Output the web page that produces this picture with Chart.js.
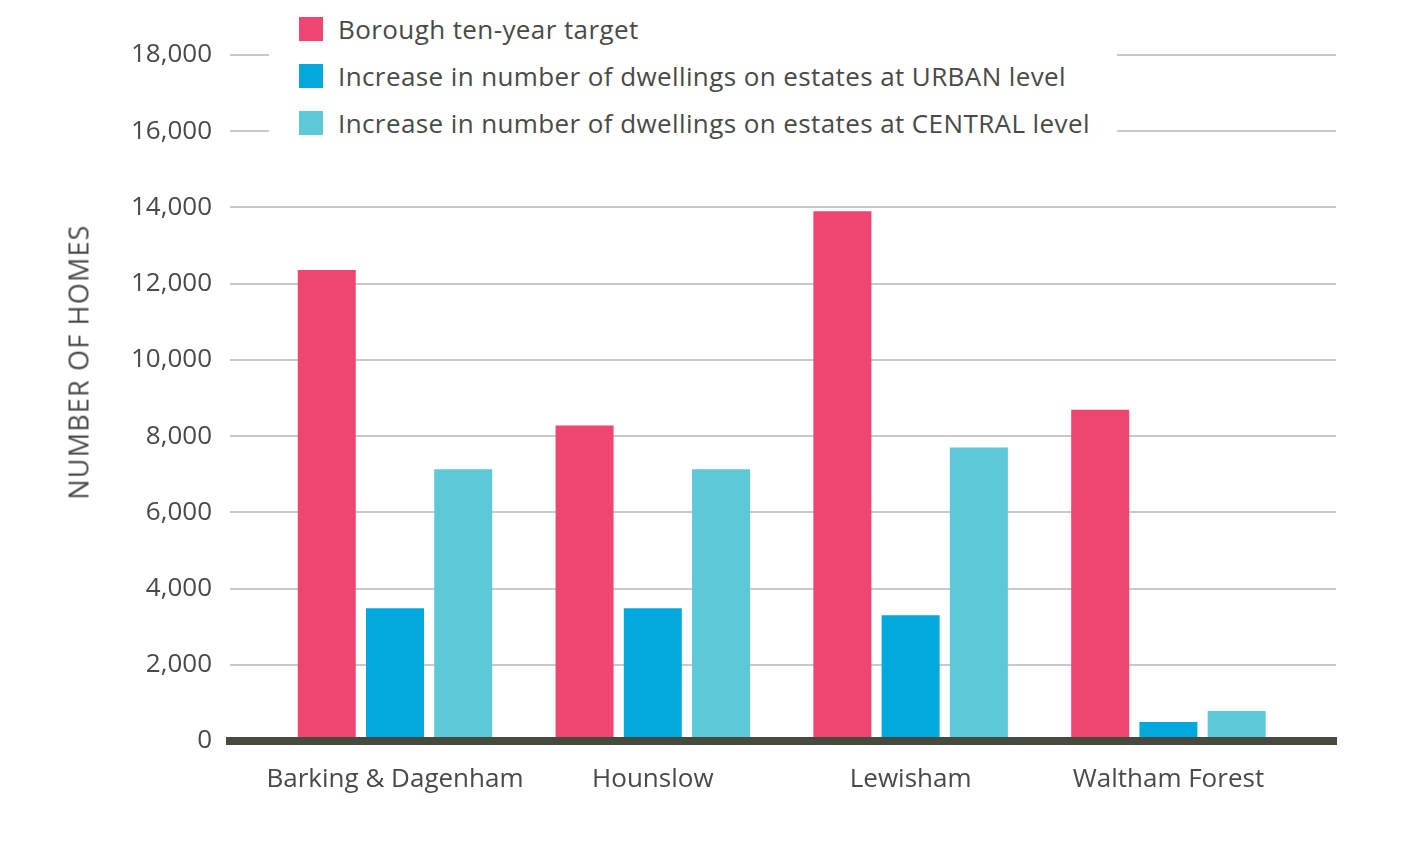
<!DOCTYPE html>
<html>
<head>
<meta charset="utf-8">
<script src="https://cdn.jsdelivr.net/npm/chart.js@4/dist/chart.umd.min.js"></script>
<style>
  html, body { margin: 0; padding: 0; background: #ffffff; }
  #wrap { position: relative; width: 1417px; height: 858px; overflow: hidden; font-family: "Open Sans", Lato, sans-serif; color: #474b45; }
  #c { position: absolute; left: 0; top: 0; }
  #legend { position: absolute; left: 269px; top: 0; width: 848px; height: 150px; background: #ffffff; }
  .item { position: absolute; left: 30px; height: 24px; display: flex; align-items: center; font-size: 26px; letter-spacing: 0.4px; white-space: nowrap; }
  .sw { width: 24px; height: 24px; margin-right: 15px; flex: none; }
  #ytitle { position: absolute; left: 78px; top: 362px; transform: translate(-50%, -50%) rotate(-90deg); font-size: 27px; white-space: nowrap; letter-spacing: 1.2px; }
</style>
</head>
<body>
<div id="wrap">
  <canvas id="c" width="1417" height="858"></canvas>
  <div id="legend"></div>
  <div id="ytitle">NUMBER OF HOMES</div>
</div>
<script>
const categories = ['Barking & Dagenham', 'Hounslow', 'Lewisham', 'Waltham Forest'];
const seriesLabels = [
  'Borough ten-year target',
  'Increase in number of dwellings on estates at URBAN level',
  'Increase in number of dwellings on estates at CENTRAL level'
];
const targetValues = [12360, 8280, 13900, 8690];
const urbanValues = [3480, 3480, 3300, 500];
const centralValues = [7130, 7130, 7700, 790];
const yTicks = [0, 2000, 4000, 6000, 8000, 10000, 12000, 14000, 16000, 18000];
const seriesColors = ['#ef4571', '#03a9dc', '#5dc8d8'];

const textColor = '#474b45';
const fontFamily = '"Open Sans", Lato, sans-serif';
const seriesValues = [targetValues, urbanValues, centralValues];

const datasets = seriesValues.map((vals, s) => ({
  label: seriesLabels[s],
  data: vals.map((v, i) => ({ x: i, y: v })),
  backgroundColor: seriesColors[s],
  borderWidth: 0,
  categoryPercentage: 0.794,
  barPercentage: 0.85
}));

// HTML legend built from the series arrays
const legend = document.getElementById('legend');
seriesLabels.forEach((lab, s) => {
  const it = document.createElement('div');
  it.className = 'item';
  it.style.top = (17 + s * 47) + 'px';
  const sw = document.createElement('span');
  sw.className = 'sw';
  sw.style.background = seriesColors[s];
  const tx = document.createElement('span');
  tx.textContent = lab;
  it.appendChild(sw);
  it.appendChild(tx);
  legend.appendChild(it);
});

new Chart(document.getElementById('c'), {
  type: 'bar',
  data: { datasets },
  options: {
    responsive: false,
    animation: false,
    devicePixelRatio: 1,
    layout: { padding: { left: 132, right: 81, top: 55, bottom: 0 } },
    plugins: { legend: { display: false }, tooltip: { enabled: false } },
    scales: {
      x: {
        type: 'linear',
        min: -0.64,
        max: 3.65,
        offset: false,
        grid: { display: false, offset: false, drawTicks: false },
        border: { display: true, color: '#454b3f', width: 8, z: 1 },
        afterBuildTicks: (axis) => { axis.ticks = categories.map((c, i) => ({ value: i })); },
        afterFit: (axis) => { axis.height = 117; },
        ticks: {
          autoSkip: false,
          maxRotation: 0,
          padding: 23,
          color: textColor,
          font: { family: fontFamily, size: 26 },
          callback: (v) => categories[v]
        }
      },
      y: {
        min: 0,
        max: 18000,
        afterBuildTicks: (axis) => { axis.ticks = yTicks.map(v => ({ value: v })); },
        afterFit: (axis) => { axis.width = 98; },
        grid: { color: '#c9c9c6', lineWidth: 2, drawTicks: false },
        border: { display: false },
        ticks: {
          padding: 18,
          color: textColor,
          font: { family: fontFamily, size: 26 },
          callback: (v) => v.toLocaleString('en-US')
        }
      }
    }
  }
});
</script>
</body>
</html>
